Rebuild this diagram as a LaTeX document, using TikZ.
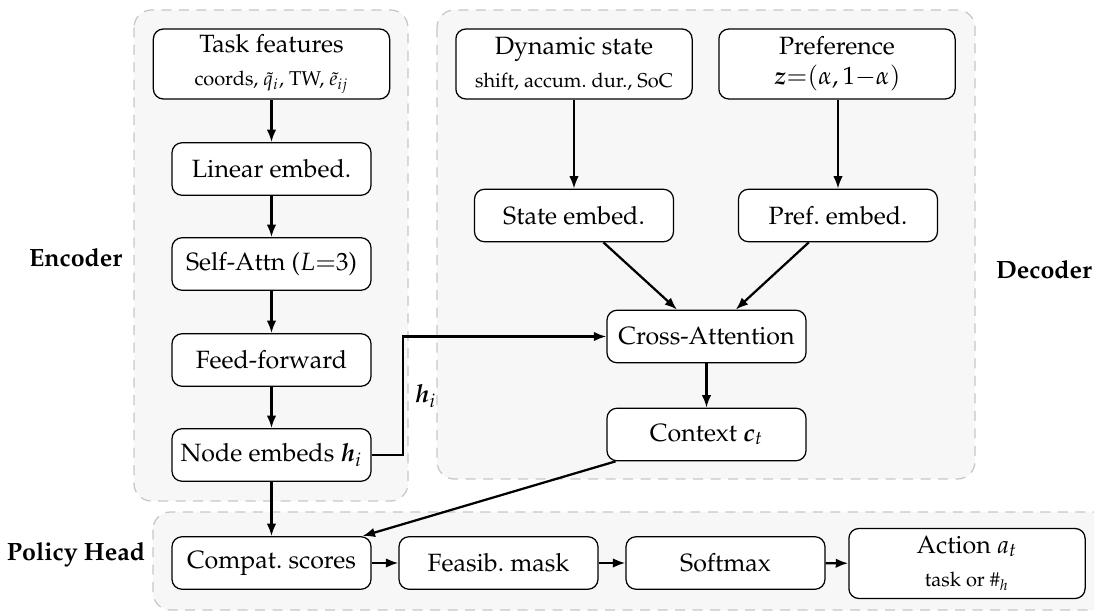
\documentclass[tikz,border=0pt]{standalone}
\usepackage[T1]{fontenc}
\usepackage{mathpazo}
\usepackage{amsmath,bm}
\usetikzlibrary{arrows.meta}

\tikzset{
  blk/.style={draw, rounded corners=4pt, fill=white, line width=0.5pt,
    minimum width=79.6pt, minimum height=21pt, align=center, inner sep=2pt},
  blktwo/.style={blk, minimum width=94.5pt, minimum height=28pt},
  grp/.style={draw=black!22, dash pattern=on 4pt off 3pt, fill=black!3,
    rounded corners=7pt, line width=0.5pt},
  arr/.style={-{Latex[length=5pt,width=3.8pt]}, line width=0.9pt},
  grplabel/.style={font=\bfseries}
}

\begin{document}
\begin{tikzpicture}[x=0.4pt, y=-0.4pt]
\useasboundingbox (0,0) rectangle (1094,612);

% group panels
\draw[grp] (134,10) rectangle (408,501);
\draw[grp] (437,10) rectangle (975,479);
\draw[grp] (153,512) rectangle (1110,610);

\node[grplabel, anchor=east] (encl) at (131,258) {Encoder};
\node[grplabel] (decl) at (1044,270) {Decoder};
\node[grplabel] (pol) at (76,555) {Policy Head};

% encoder column
\node[blktwo] (task) at (271.5,64) {Task features\\[1.5pt]{\footnotesize coords, $\tilde{q}_i$, TW, $\tilde{e}_{ij}$}};
\node[blk] (lin) at (271.5,169) {Linear embed.};
\node[blk] (sa) at (271.5,264) {Self-Attn ($L{=}3$)};
\node[blk] (ff) at (271.5,360) {Feed-forward};
\node[blk] (ne) at (271.5,455) {Node embeds $\bm{h}_i$};

% decoder
\node[blktwo] (dyn) at (574,64) {Dynamic state\\[1.5pt]{\footnotesize shift, accum.\ dur., SoC}};
\node[blktwo] (pref) at (837,64) {Preference\\$\bm{z}{=}(\alpha,1{-}\alpha)$};
\node[blk] (se) at (574,215.5) {State embed.};
\node[blk] (pe) at (838,215.5) {Pref.\ embed.};
\node[blk] (ca) at (706.5,336.5) {Cross-Attention};
\node[blk] (ctx) at (706.5,434.5) {Context $\bm{c}_t$};

% policy head
\node[blk] (cs) at (271.5,563) {Compat.\ scores};
\node[blk] (fm) at (498.5,563) {Feasib.\ mask};
\node[blk] (sm) at (725.5,563) {Softmax};
\node[blktwo] (act) at (967,563.5) {Action $a_t$\\[1.5pt]{\footnotesize task or $\#_h$}};

% connectors
\draw[arr] (task) -- (lin);
\draw[arr] (lin) -- (sa);
\draw[arr] (sa) -- (ff);
\draw[arr] (ff) -- (ne);
\coordinate (hbend) at (403,455);
\draw[arr] (ne.east) -- (hbend) |- (ca.west)
  node[pos=0.25, anchor=west, xshift=1pt] {$\bm{h}_i$};
\draw[arr] (dyn.south -| se) -- (se);
\draw[arr] (pref.south -| pe) -- (pe);
\draw[arr] (se) -- (ca);
\draw[arr] (pe) -- (ca);
\draw[arr] (ca) -- (ctx);
\draw[arr] (ne) -- (cs);
\draw[arr] (ctx) -- (cs);
\draw[arr] (cs) -- (fm);
\draw[arr] (fm) -- (sm);
\draw[arr] (sm) -- (act);
\end{tikzpicture}
\end{document}
